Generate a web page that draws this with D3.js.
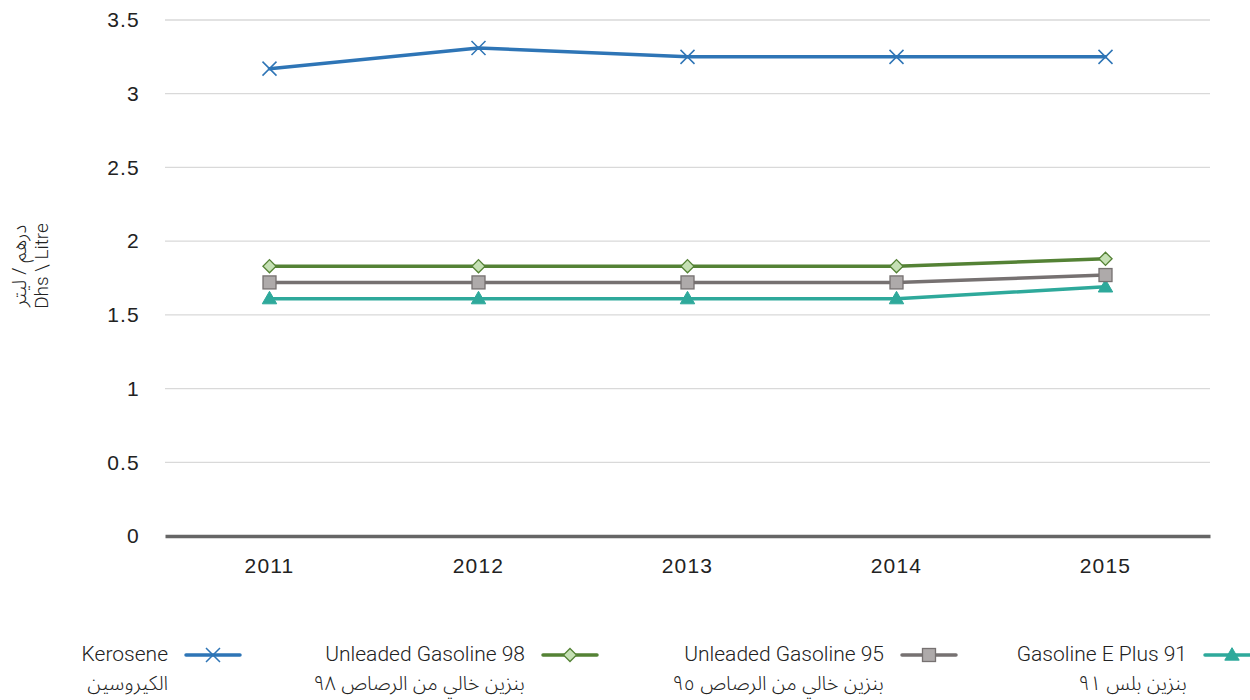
<!DOCTYPE html>
<html><head><meta charset="utf-8">
<script src="https://cdn.jsdelivr.net/npm/d3@7"></script>
<style>body{margin:0;background:#fff}svg{display:block}</style>
</head><body>
<svg id="c" width="1250" height="700"></svg>
<script>
const years = ["2011","2012","2013","2014","2015"];
const kerosene = [3.17, 3.31, 3.25, 3.25, 3.25];
const unleaded98 = [1.83, 1.83, 1.83, 1.83, 1.88];
const unleaded95 = [1.72, 1.72, 1.72, 1.72, 1.77];
const eplus91 = [1.61, 1.61, 1.61, 1.61, 1.69];
const yTicks = [0, 0.5, 1, 1.5, 2, 2.5, 3, 3.5];
const seriesNames = ["Kerosene","Unleaded Gasoline 98","Unleaded Gasoline 95","Gasoline E Plus 91"];
const seriesArabic = ["الكيروسين","بنزين خالي من الرصاص ٩٨","بنزين خالي من الرصاص ٩٥","بنزين بلس ٩١"];

const series = [
  {name: seriesNames[0], ar: seriesArabic[0], values: kerosene, color:"#2e75b6", fill:"none", marker:"x"},
  {name: seriesNames[1], ar: seriesArabic[1], values: unleaded98, color:"#548235", fill:"#c5e0b4", marker:"diamond"},
  {name: seriesNames[2], ar: seriesArabic[2], values: unleaded95, color:"#767171", fill:"#aeaaaa", marker:"square"},
  {name: seriesNames[3], ar: seriesArabic[3], values: eplus91, color:"#2ea99b", fill:"#2ea99b", marker:"triangle"}
];

const svg = d3.select("#c");
const x = d3.scaleBand().domain(years).range([165, 1210]).padding(0);
const y = d3.scaleLinear().domain([0, 3.5]).range([536, 20]);

// gridlines
svg.append("g").selectAll("line").data(yTicks.filter(d=>d>0)).join("line")
  .attr("x1",165).attr("x2",1210).attr("y1",d=>y(d)).attr("y2",d=>y(d))
  .attr("stroke","#d9d9d9").attr("stroke-width",1.3);

const tickFont = "'Liberation Sans', Arial, sans-serif";
const latinFont = "Roboto, 'Noto Sans', sans-serif";
const arabicFont = "'Noto Sans Arabic', 'Noto Sans', 'DejaVu Sans', sans-serif";

// y axis labels
const ya = svg.append("g").attr("transform","translate(165,0)")
  .call(d3.axisLeft(y).tickValues(yTicks).tickSize(0).tickPadding(25).tickFormat(d=>d3.format("")(d)));
ya.select(".domain").remove();
ya.selectAll("text").style("font-size","21px").style("fill","#222").style("font-family",tickFont).style("letter-spacing","1.2px");

// x axis
const xa = svg.append("g").attr("transform","translate(0,536)")
  .call(d3.axisBottom(x).tickSize(0).tickPadding(22));
xa.select(".domain").attr("stroke","#666").attr("stroke-width",3.5);
xa.selectAll("text").style("font-size","21px").style("fill","#222").style("font-family",tickFont).style("letter-spacing","1.2px");

// y title
const yt = svg.append("g").attr("transform","translate(26,266) rotate(-90)");
yt.append("text").attr("text-anchor","middle").attr("y",0).style("font-size","20px").style("fill","#222").style("font-family",arabicFont).style("font-weight",300).text("درهم / ليتر");
yt.append("text").attr("text-anchor","middle").attr("y",22).style("font-size","19px").style("fill","#222").style("font-family",latinFont).style("font-weight",300).text("Dhs \\ Litre");

function drawMarker(g, type, color, fill, cx, cy) {
  if (type === "x") {
    const s = 7;
    g.append("path").attr("d",`M${cx-s},${cy-s}L${cx+s},${cy+s}M${cx-s},${cy+s}L${cx+s},${cy-s}`)
      .attr("stroke",color).attr("stroke-width",1.5).attr("fill","none");
  } else if (type === "diamond") {
    g.append("path").attr("d",d3.symbol(d3.symbolDiamond2, 110)()).attr("transform",`translate(${cx},${cy})`)
      .attr("fill",fill).attr("stroke",color).attr("stroke-width",1.3);
  } else if (type === "square") {
    g.append("rect").attr("x",cx-6.5).attr("y",cy-6.5).attr("width",13).attr("height",13)
      .attr("fill",fill).attr("stroke",color).attr("stroke-width",1.3);
  } else if (type === "triangle") {
    g.append("path").attr("d",d3.symbol(d3.symbolTriangle, 90)()).attr("transform",`translate(${cx},${cy+1})`)
      .attr("fill",fill).attr("stroke",color).attr("stroke-width",1);
  }
}

const line = d3.line().x((d,i)=>x(years[i])+x.bandwidth()/2).y(d=>y(d));
series.slice().reverse().forEach(s=>{
  const g = svg.append("g");
  g.append("path").attr("d",line(s.values)).attr("fill","none").attr("stroke",s.color)
    .attr("stroke-width",3.5).attr("stroke-linejoin","round").attr("stroke-linecap","round");
  s.values.forEach((v,i)=>drawMarker(g, s.marker, s.color, s.fill, x(years[i])+x.bandwidth()/2, y(v)));
});

// legend
const legendX = [168, 525, 884, 1187];
series.forEach((s,i)=>{
  const g = svg.append("g");
  const tx = legendX[i];
  g.append("text").attr("x",tx).attr("y",661).attr("text-anchor","end").style("font-size","21px").style("font-weight",300).style("fill","#222").style("font-family",latinFont).text(s.name);
  g.append("text").attr("x",tx).attr("y",690).attr("text-anchor","start").attr("direction","rtl").style("font-size","20px").style("fill","#222")
    .style("font-family",arabicFont).style("font-weight",300).text(s.ar);
  const lx0 = tx+18, lx1 = tx+72;
  g.append("line").attr("x1",lx0).attr("x2",lx1).attr("y1",655).attr("y2",655).attr("stroke",s.color).attr("stroke-width",3.5).attr("stroke-linecap","round");
  drawMarker(g, s.marker, s.color, s.fill, (lx0+lx1)/2, 655);
});
</script>
</body></html>
